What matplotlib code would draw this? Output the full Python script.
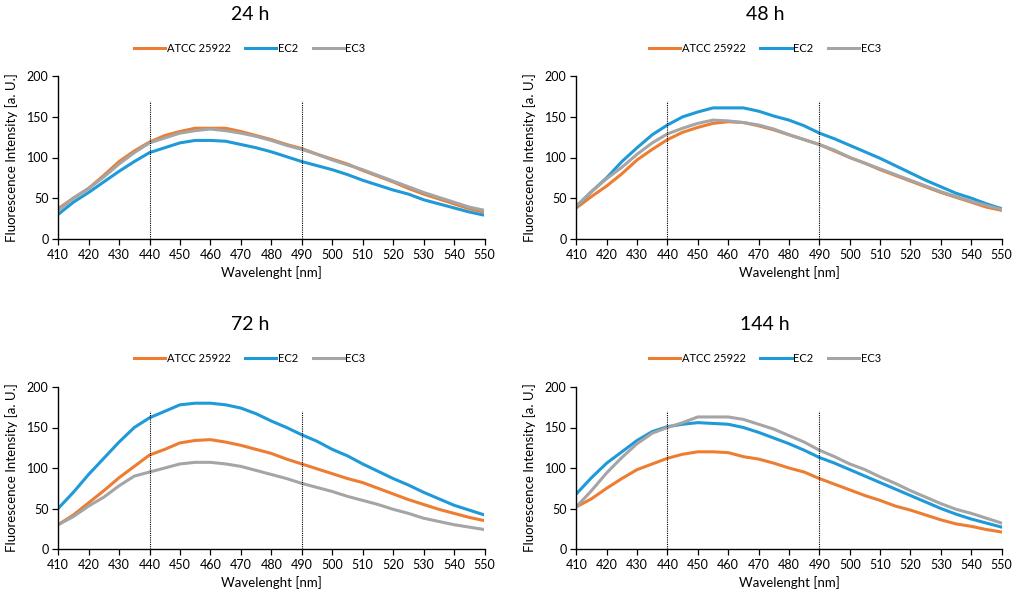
import matplotlib.pyplot as plt

plt.rcParams["font.family"] = ["Lato", "DejaVu Sans"]

# wavelength grid (nm) and readings
wavelength = list(range(410, 551, 5))

atcc_24 = [37, 50, 62, 78, 95, 108, 119, 127, 132, 136, 136, 136, 132, 127, 122,
           116, 111, 104, 98, 92, 84, 77, 70, 62, 55, 49, 43, 37, 33]
ec2_24 = [30, 45, 57, 70, 83, 95, 106, 112, 118, 121, 121, 120, 116, 112, 107,
          101, 95, 90, 85, 79, 72, 66, 60, 55, 48, 43, 38, 33, 29]
ec3_24 = [35, 50, 62, 76, 92, 106, 118, 124, 130, 133, 135, 133, 130, 126, 121,
          115, 110, 104, 97, 91, 85, 78, 71, 64, 57, 51, 45, 39, 35]

atcc_48 = [38, 52, 65, 80, 97, 110, 122, 131, 137, 142, 144, 143, 139, 134, 128,
           122, 116, 108, 100, 93, 85, 78, 71, 64, 57, 51, 45, 39, 35]
ec2_48 = [40, 58, 75, 95, 112, 128, 140, 150, 156, 161, 161, 161, 157, 151, 146,
          139, 130, 123, 115, 107, 99, 90, 81, 72, 64, 56, 50, 43, 37]
ec3_48 = [40, 58, 74, 88, 104, 118, 129, 136, 142, 146, 145, 143, 140, 135, 128,
          122, 116, 109, 100, 93, 86, 79, 72, 65, 58, 52, 46, 41, 36]

atcc_72 = [30, 42, 57, 72, 88, 102, 116, 123, 131, 134, 135, 132, 128, 123, 118,
           111, 105, 99, 93, 87, 82, 75, 68, 61, 55, 49, 44, 39, 35]
ec2_72 = [50, 70, 92, 112, 132, 150, 162, 170, 178, 180, 180, 178, 174, 167, 158,
          150, 141, 133, 123, 115, 105, 96, 87, 79, 70, 62, 54, 48, 42]
ec3_72 = [30, 40, 53, 64, 78, 90, 95, 100, 105, 107, 107, 105, 102, 97, 92,
          87, 81, 76, 71, 65, 60, 55, 49, 44, 38, 34, 30, 27, 24]

atcc_144 = [52, 62, 75, 87, 98, 105, 112, 117, 120, 120, 119, 114, 111, 106, 100,
            95, 87, 80, 73, 66, 60, 53, 48, 42, 36, 31, 28, 24, 21]
ec2_144 = [68, 88, 106, 120, 134, 145, 151, 154, 156, 155, 154, 150, 144, 137, 130,
           122, 113, 106, 98, 90, 82, 74, 66, 58, 50, 43, 37, 32, 27]
ec3_144 = [52, 72, 94, 113, 130, 143, 150, 156, 163, 163, 163, 160, 154, 148, 140,
           132, 122, 114, 105, 98, 89, 81, 72, 64, 56, 49, 44, 38, 32]

titles = ["24 h", "48 h", "72 h", "144 h"]
series_names = ["ATCC 25922", "EC2", "EC3"]
colors = ["#ED7D31", "#1F9AD8", "#A5A5A5"]
panels = [
    [atcc_24, ec2_24, ec3_24],
    [atcc_48, ec2_48, ec3_48],
    [atcc_72, ec2_72, ec3_72],
    [atcc_144, ec2_144, ec3_144],
]

# axes boxes [left, bottom, width, height] in figure fractions
boxes = [
    [0.057, 0.602, 0.418, 0.271],
    [0.565, 0.602, 0.417, 0.271],
    [0.057, 0.085, 0.418, 0.270],
    [0.565, 0.085, 0.417, 0.270],
]
title_y = [0.975, 0.975, 0.46, 0.46]
legend_y = [0.92, 0.92, 0.403, 0.403]
centers = [0.245, 0.75, 0.245, 0.75]

fig = plt.figure(figsize=(10.2, 6), dpi=100)
for i in range(4):
    ax = fig.add_axes(boxes[i])
    for name, vals, c in zip(series_names, panels[i], colors):
        ax.plot(wavelength, vals, color=c, lw=2.2, label=name)
    ax.vlines([440, 490], 0, 170, colors="black", linestyles=(0, (1, 1)), lw=0.8)
    ax.set_xlim(410, 550)
    ax.set_ylim(0, 200)
    ax.set_xticks(range(410, 551, 10))
    ax.set_yticks(range(0, 201, 50))
    ax.tick_params(labelsize=9, length=4, width=0.9, direction="out", pad=3)
    for s in ["top", "right"]:
        ax.spines[s].set_visible(False)
    for s in ["left", "bottom"]:
        ax.spines[s].set_linewidth(1.0)
    ax.set_xlabel("Wavelenght [nm]", fontsize=9.5, labelpad=4)
    ax.set_ylabel("Fluorescence Intensity [a. U.]", fontsize=9.5, labelpad=6)
    fig.text(centers[i], title_y[i], titles[i], ha="center", va="center", fontsize=14)
    ax.legend(loc="center", bbox_to_anchor=(centers[i], legend_y[i]),
              bbox_transform=fig.transFigure, ncol=3, frameon=False, fontsize=8,
              handlelength=2.8, handletextpad=0.15, columnspacing=1.3)

fig.savefig("out.png", dpi=100)
